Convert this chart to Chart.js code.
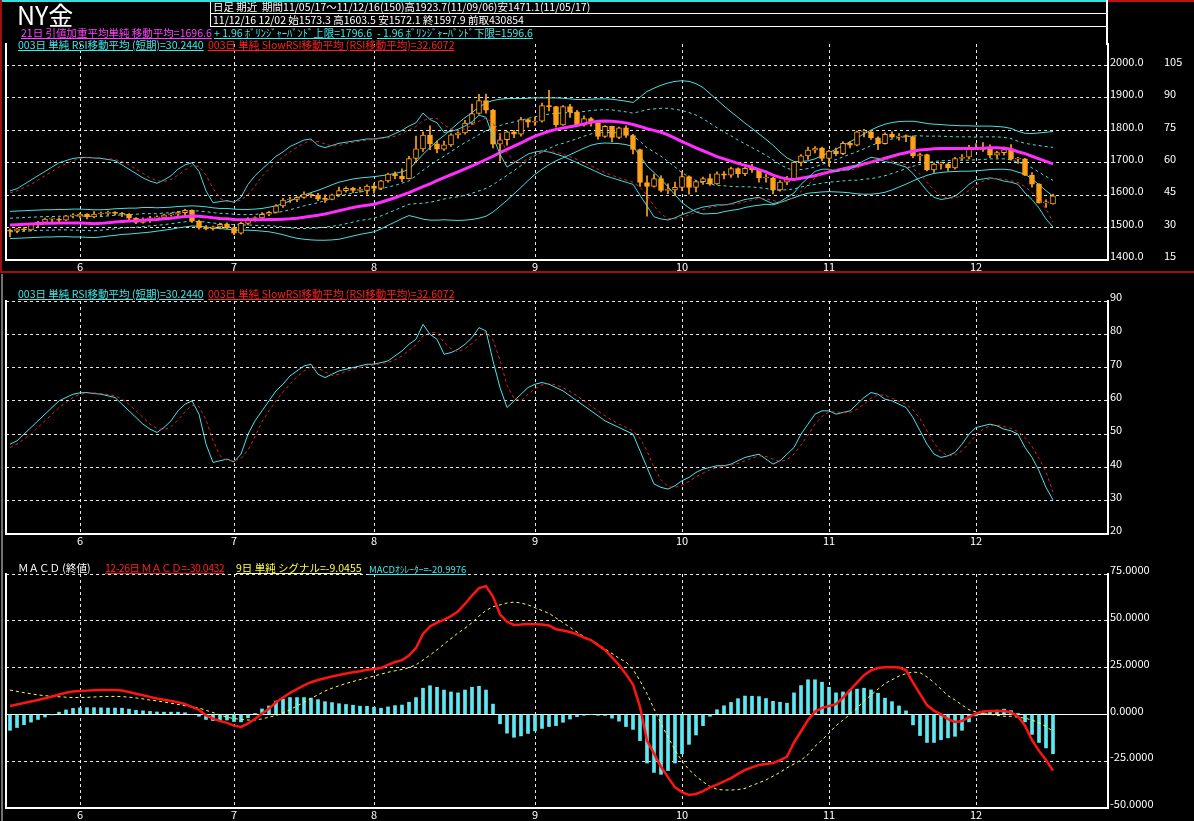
<!DOCTYPE html>
<html lang="ja">
<head>
<meta charset="utf-8">
<title>NY金</title>
<script src="https://cdn.jsdelivr.net/npm/chart.js@4.4.1/dist/chart.umd.min.js"></script>
<style>
  html, body { margin: 0; padding: 0; background: #000; }
  body { position: relative; width: 1194px; height: 821px; overflow: hidden; font-family: "Noto Sans CJK JP", sans-serif; }
  canvas { position: absolute; left: 0; }
  .ln { position: absolute; z-index: 2; }
  .tx { position: absolute; font-size: 10.5px; line-height: 12px; white-space: nowrap; z-index: 3; }
  .u { text-decoration: underline; text-underline-offset: 1px; }
</style>
</head>
<body>
<canvas id="price" width="1194" height="272" style="top:0"></canvas>
<canvas id="rsi" width="1194" height="276" style="top:272px"></canvas>
<canvas id="macd" width="1194" height="273" style="top:548px"></canvas>

<!-- frame -->
<div class="ln" style="left:0;top:0;width:1108px;height:2px;background:#30e0e0"></div>
<div class="ln" style="left:1108px;top:0;width:86px;height:2px;background:#c01010"></div>
<div class="ln" style="left:0;top:0;width:2px;height:272px;background:#a01010"></div>
<div class="ln" style="left:0;top:271px;width:1194px;height:2px;background:#a01010"></div>
<div class="ln" style="left:1px;top:274px;width:2px;height:547px;background:#707070"></div>
<div class="ln" style="left:210px;top:2px;width:1px;height:25px;background:#fff"></div>
<div class="ln" style="left:210px;top:13px;width:898px;height:1px;background:#fff"></div>
<div class="ln" style="left:210px;top:26px;width:898px;height:1px;background:#fff"></div>
<div class="ln" style="left:1106px;top:0;width:2px;height:45px;background:#fff"></div>

<!-- header -->
<div class="tx" style="left:17px;top:1px;font-size:25px;line-height:26px;color:#fff">NY金</div>
<div class="tx" style="left:213px;top:1px;color:#fff">日足 期近&nbsp; 期間11/05/17～11/12/16(150)高1923.7(11/09/06)安1471.1(11/05/17)</div>
<div class="tx" style="left:213px;top:14px;color:#fff">11/12/16 12/02 始1573.3 高1603.5 安1572.1 終1597.9 前取430854</div>
<div class="tx u" style="left:21px;top:27px;color:#ff40ff">21日 引値加重平均単純 移動平均=1696.6</div>
<div class="tx u" style="left:214px;top:27px;color:#40e8e8">+ 1.96 ﾎﾞﾘﾝｼﾞｬｰﾊﾞﾝﾄﾞ上限=1796.6</div>
<div class="tx u" style="left:377px;top:27px;color:#40e8e8">- 1.96 ﾎﾞﾘﾝｼﾞｬｰﾊﾞﾝﾄﾞ下限=1596.6</div>
<div class="tx u" style="left:18px;top:39px;color:#40e8e8">003日 単純 RSI移動平均 (短期)=30.2440</div>
<div class="tx u" style="left:208px;top:39px;color:#ff2020">003日 単純 SlowRSI移動平均 (RSI移動平均)=32.6072</div>

<div class="tx u" style="left:18px;top:288px;color:#40e8e8">003日 単純 RSI移動平均 (短期)=30.2440</div>
<div class="tx u" style="left:208px;top:288px;color:#ff2020">003日 単純 SlowRSI移動平均 (RSI移動平均)=32.6072</div>

<div class="tx" style="left:18px;top:562px;color:#fff">ＭＡＣＤ (終値)</div>
<div class="tx u" style="left:105px;top:562px;color:#ff2020;letter-spacing:-0.5px">12-26日 ＭＡＣＤ=-30.0432</div>
<div class="tx u" style="left:236px;top:562px;color:#ffff40">9日 単純 シグナル=-9.0455</div>
<div class="tx u" style="left:369px;top:563px;color:#40e8e8;font-size:9.5px">MACDｵｼﾚｰﾀｰ=-20.9976</div>

<script>
// ---- data: 150 daily bars, 2011/05/17 - 2011/12/16 ----
const dates = [
  '05/17','05/18','05/19','05/20','05/23','05/24','05/25','05/26','05/27','05/31',
  '06/01','06/02','06/03','06/06','06/07','06/08','06/09','06/10','06/13','06/14','06/15','06/16','06/17','06/20','06/21','06/22','06/23','06/24','06/27','06/28','06/29','06/30',
  '07/01','07/05','07/06','07/07','07/08','07/11','07/12','07/13','07/14','07/15','07/18','07/19','07/20','07/21','07/22','07/25','07/26','07/27','07/28','07/29',
  '08/01','08/02','08/03','08/04','08/05','08/08','08/09','08/10','08/11','08/12','08/15','08/16','08/17','08/18','08/19','08/22','08/23','08/24','08/25','08/26','08/29','08/30','08/31',
  '09/01','09/02','09/06','09/07','09/08','09/09','09/12','09/13','09/14','09/15','09/16','09/19','09/20','09/21','09/22','09/23','09/26','09/27','09/28','09/29','09/30',
  '10/03','10/04','10/05','10/06','10/07','10/10','10/11','10/12','10/13','10/14','10/17','10/18','10/19','10/20','10/21','10/24','10/25','10/26','10/27','10/28','10/31',
  '11/01','11/02','11/03','11/04','11/07','11/08','11/09','11/10','11/11','11/14','11/15','11/16','11/17','11/18','11/21','11/22','11/23','11/25','11/28','11/29','11/30',
  '12/01','12/02','12/05','12/06','12/07','12/08','12/09','12/12','12/13','12/14','12/15','12/16'
];

const openP = [
  1490,1489,1496,1493,1510,1516,1526,1526,1523,1536,
  1536,1541,1533,1542,1544,1545,1544,1541,1529,1516,1525,1530,1531,1539,1541,1546,1553,1520,1500,1497,1502,1510,
  1500,1483,1513,1528,1530,1541,1547,1567,1585,1587,1593,1603,1600,1588,1587,1601,1614,1621,1615,1615,
  1628,1621,1644,1665,1659,1651,1713,1743,1785,1758,1742,1755,1786,1792,1822,1852,1892,1862,1757,1771,1795,1788,1833,
  1825,1828,1876,1873,1817,1873,1856,1816,1836,1823,1781,1812,1778,1808,1784,1741,1639,1627,1651,1615,1616,
  1624,1657,1624,1642,1651,1635,1666,1662,1682,1666,1683,1679,1653,1653,1616,1640,1651,1701,1721,1739,1745,
  1713,1736,1728,1760,1754,1795,1795,1777,1759,1788,1779,1782,1781,1721,1725,1678,1696,1696,1684,1713,1717,
  1747,1741,1746,1723,1731,1741,1711,1712,1662,1634,1576,1573.3
];
const highP = [
  1496,1498,1500,1513,1519,1529,1530,1530,1538,1543,
  1545,1543,1549,1548,1551,1549,1547,1543,1531,1530,1535,1536,1542,1545,1550,1556,1555,1523,1506,1505,1514,1515,
  1502,1517,1531,1533,1546,1550,1571,1590,1594,1596,1610,1605,1606,1601,1603,1625,1626,1624,1625,1632,
  1636,1646,1668,1672,1681,1720,1782,1795,1814,1767,1767,1790,1795,1831,1881,1911,1912,1865,1790,1798,1800,1840,1836,
  1840,1884,1923.7,1874,1876,1880,1862,1845,1840,1830,1815,1813,1810,1814,1788,1742,1660,1665,1660,1635,1640,
  1674,1660,1645,1656,1665,1672,1673,1687,1684,1686,1695,1680,1665,1655,1645,1658,1703,1725,1748,1750,1748,
  1738,1745,1765,1765,1798,1803,1800,1780,1792,1795,1790,1786,1783,1730,1727,1700,1702,1699,1717,1725,1754,
  1759,1762,1755,1735,1748,1756,1717,1714,1670,1636,1586,1603.5
];
const lowP = [
  1471.1,1484,1488,1490,1500,1512,1518,1515,1521,1530,
  1530,1527,1530,1537,1538,1538,1534,1524,1512,1514,1516,1522,1528,1535,1537,1540,1516,1495,1493,1492,1496,1497,
  1478,1480,1508,1520,1521,1537,1545,1562,1578,1580,1590,1593,1583,1578,1585,1598,1609,1608,1609,1603,
  1606,1617,1640,1650,1642,1650,1700,1735,1740,1730,1738,1750,1776,1788,1818,1850,1853,1746,1705,1754,1777,1782,1810,
  1815,1825,1860,1810,1815,1840,1812,1813,1813,1773,1778,1764,1774,1778,1727,1627,1535,1625,1610,1605,1600,
  1614,1603,1610,1633,1630,1633,1650,1655,1655,1660,1670,1640,1640,1604,1612,1632,1648,1690,1710,1730,1706,
  1690,1722,1725,1746,1752,1780,1772,1740,1757,1776,1770,1765,1716,1705,1675,1670,1680,1675,1680,1708,1712,
  1740,1735,1716,1715,1723,1708,1698,1660,1625,1575,1562,1572.1
];
const closeP = [
  1489,1496,1493,1510,1516,1526,1526,1523,1536,1536,
  1541,1533,1542,1544,1545,1544,1541,1529,1516,1525,1530,1531,1539,1541,1546,1553,1520,1500,1497,1502,1510,1500,
  1483,1513,1528,1530,1541,1547,1567,1585,1587,1593,1603,1600,1588,1587,1601,1614,1621,1615,1615,1628,
  1621,1644,1665,1659,1651,1713,1743,1785,1758,1742,1755,1786,1792,1822,1852,1892,1862,1757,1771,1795,1788,1833,1825,
  1828,1876,1873,1817,1873,1856,1816,1836,1823,1781,1812,1778,1808,1784,1741,1639,1627,1651,1615,1616,1624,
  1657,1624,1642,1651,1635,1666,1662,1682,1666,1683,1679,1653,1653,1616,1640,1651,1701,1721,1739,1745,1713,
  1736,1728,1760,1754,1795,1795,1777,1759,1788,1779,1782,1781,1721,1725,1678,1696,1696,1684,1713,1717,1747,
  1741,1746,1723,1731,1741,1711,1712,1662,1634,1576,1578,1597.9
];

// 21-day moving average and bands (+-1.96 solid, +-1 dashed)
const ma21 = [
  1508,1509,1510,1511,1512,1513,1513,1514,1514,1514,
  1514,1513,1512,1513,1515,1517,1519,1520,1521,1523,1524,1525,1527,1529,1532,1534,1536,1535,1533,1530,1528,1527,
  1525,1524,1524,1524,1524,1525,1525,1526,1527,1529,1532,1535,1538,1542,1547,1552,1557,1562,1566,1569,
  1572,1578,1585,1592,1600,1608,1617,1626,1635,1645,1654,1663,1672,1681,1690,1700,1710,1720,1731,1741,1751,1761,1772,
  1782,1790,1797,1803,1807,1811,1815,1820,1825,1828,1829,1828,1826,1823,1818,1812,1805,1800,1794,1786,1776,
  1765,1756,1746,1737,1728,1719,1712,1705,1698,1692,1686,1679,1672,1662,1655,1650,1648,1652,1656,1660,1666,
  1671,1676,1681,1686,1690,1696,1702,1708,1714,1720,1726,1731,1736,1739,1741,1743,1744,1744,1744,1744,1744,
  1744,1745,1746,1746,1745,1742,1734,1728,1720,1712,1704,1696.6
];
const bbUpper = [
  1550,1551,1552,1553,1554,1555,1555,1556,1556,1557,
  1557,1556,1555,1555,1556,1558,1559,1560,1560,1562,1562,1561,1562,1563,1565,1566,1567,1566,1564,1561,1559,1559,
  1557,1556,1556,1557,1559,1563,1567,1574,1582,1591,1600,1608,1615,1623,1632,1640,1645,1650,1653,1655,
  1657,1660,1663,1667,1672,1679,1702,1726,1747,1767,1784,1803,1822,1839,1855,1871,1885,1892,1896,1898,1898,1898,1899,
  1900,1900,1900,1900,1899,1897,1895,1895,1896,1897,1897,1896,1893,1890,1886,1902,1920,1930,1939,1946,1951,
  1953,1951,1944,1932,1913,1894,1875,1857,1840,1822,1806,1789,1772,1754,1733,1715,1704,1704,1706,1712,1722,
  1731,1742,1753,1765,1776,1789,1801,1811,1819,1824,1827,1828,1828,1825,1821,1819,1818,1816,1815,1814,1814,
  1813,1813,1813,1812,1810,1806,1797,1791,1790,1792,1794,1796.6
];
const bbLower = [
  1466,1467,1468,1469,1470,1471,1471,1472,1472,1471,
  1471,1470,1469,1471,1474,1476,1479,1480,1482,1484,1486,1489,1492,1495,1499,1502,1505,1504,1502,1499,1497,1495,
  1493,1492,1492,1491,1489,1487,1483,1478,1472,1467,1464,1462,1461,1461,1462,1464,1469,1474,1479,1483,
  1487,1496,1507,1517,1528,1537,1532,1526,1523,1523,1524,1523,1522,1523,1525,1529,1535,1548,1566,1584,1604,1624,1645,
  1664,1680,1694,1706,1715,1725,1735,1745,1754,1759,1761,1760,1759,1756,1750,1722,1690,1670,1649,1626,1601,
  1577,1561,1548,1542,1543,1544,1549,1553,1556,1562,1566,1569,1572,1570,1577,1585,1592,1600,1606,1608,1610,
  1611,1610,1609,1607,1604,1603,1603,1605,1609,1616,1625,1634,1644,1653,1661,1667,1670,1672,1673,1674,1674,
  1675,1677,1679,1680,1680,1678,1671,1665,1650,1632,1614,1596.6
];
const sigUpper = [
  1529,1530,1531,1532,1533,1534,1534,1535,1535,1536,
  1536,1535,1534,1534,1536,1538,1539,1540,1541,1543,1543,1543,1545,1546,1549,1550,1552,1551,1549,1546,1544,1543,
  1541,1540,1540,1541,1542,1544,1546,1550,1555,1561,1567,1572,1577,1583,1590,1597,1602,1607,1610,1613,
  1615,1620,1625,1630,1637,1644,1660,1677,1692,1707,1720,1734,1749,1762,1774,1787,1799,1808,1815,1821,1826,1831,1837,
  1842,1846,1850,1852,1854,1855,1856,1858,1861,1863,1864,1863,1860,1857,1853,1858,1864,1866,1868,1868,1865,
  1861,1855,1847,1836,1822,1808,1795,1783,1770,1758,1747,1735,1723,1709,1695,1683,1677,1679,1682,1687,1695,
  1702,1710,1718,1726,1734,1743,1753,1761,1768,1773,1778,1780,1783,1783,1782,1782,1782,1781,1780,1780,1780,
  1779,1780,1780,1780,1778,1775,1766,1760,1756,1753,1750,1747.6
];
const sigLower = [
  1487,1488,1489,1490,1491,1492,1492,1493,1493,1492,
  1492,1491,1490,1492,1494,1496,1499,1500,1501,1503,1505,1507,1509,1512,1515,1518,1520,1519,1517,1514,1512,1511,
  1509,1508,1508,1507,1506,1506,1504,1502,1499,1497,1497,1498,1499,1501,1504,1507,1512,1517,1522,1525,
  1529,1536,1545,1554,1563,1572,1574,1575,1578,1583,1588,1592,1595,1600,1606,1613,1621,1632,1647,1661,1676,1691,1707,
  1722,1734,1744,1754,1760,1767,1774,1782,1789,1793,1794,1793,1792,1789,1783,1766,1746,1734,1720,1704,1687,
  1669,1657,1645,1638,1634,1630,1629,1627,1626,1626,1625,1623,1621,1615,1615,1617,1619,1625,1630,1633,1637,
  1640,1642,1644,1646,1646,1649,1651,1655,1660,1667,1674,1682,1689,1695,1700,1704,1706,1707,1708,1708,1708,
  1709,1710,1712,1712,1712,1709,1702,1696,1684,1671,1658,1645.6
];

// RSI (3-day smoothed) and SlowRSI
const rsi3 = [
  47,48,50,52,54,56,58,60,61,62,
  62.4,62.5,62.2,62,61.5,61,59,57,55,53,51.5,50.5,52,54,57,59,60,56,47,41.5,42,42.5,
  41.7,44,50,54,57,60,63,65,67.5,69,70.5,71,68,67,68,69,69.5,70,70.5,71,
  71,71.5,72,73.5,75,77,78.5,83,80,78.5,74,74.5,75.5,77,79,82,81,72,64,58,60,62,64,
  65,65.5,65,64,63,61.5,60,58.5,57,55.5,54,53,52,51,50,45,40,35,34,33.5,34.5,
  36,37,38.5,39.5,40,40.5,40.5,41,42,43,43.5,44,42.5,41,42,44,46,50,53,56,57,
  57,56,56.5,57,59,61,62.5,62,60.5,60,59,58,55,51,47,44,43,43.5,44.5,47,50,
  52,52.5,53,52.5,51.5,51,50,46,43,39,34,30.244
];
const slowRsi = [
  46,47,48.5,50,52,54,56,58,59.5,61,
  62,62.3,62.4,62.2,61.9,61.5,60.5,59,57,55,53,51.7,51.3,52.2,54.3,56.7,58.7,58.3,54.3,48.2,43.5,42,
  42,42.7,45.2,49.3,53.7,57,60,62.7,65,67.2,69,70.2,69.8,68.7,67.7,68,68.8,69.5,70,70.5,
  70.8,71.2,71.5,72.3,73.5,75.2,76.8,79.5,80.5,80.5,77.5,75.7,74.7,75.7,77.2,79.3,80.7,78.3,72.3,64.7,60.7,60,62,
  63.7,64.8,65.2,64.8,64,62.8,61.5,60,58.5,57,55.5,54.2,53,52,51,48.7,45,40,36.3,34.2,34,
  34.7,35.8,37.2,38.3,39.3,40,40.3,40.7,41.2,42,42.8,43.5,43.3,42.5,41.8,42.3,44,46.7,49.7,53,55.3,
  56.7,56.7,56.5,56.5,57.5,59,60.8,61.8,61.7,60.8,59.8,59,57.3,54.7,51,47.3,44.7,43.5,43.7,45,47.2,
  49.7,51.5,52.5,52.7,52.3,51.7,50.8,49,46.3,42.7,38.7,32.6072
];

// MACD 12-26, signal 9, oscillator
const macdLine = [
  4.5,5.3,6.1,6.9,7.7,8.6,9.6,10.6,11.6,12.2,
  12.5,12.7,12.9,13,13,13,12.8,12,11,10.2,9.3,8.5,7.8,7.2,6.5,5.5,4,2.4,-0.5,-2.3,-3.5,-4.5,
  -6,-6.7,-4.8,-2.5,0.5,3,6.5,9,11.5,13.5,15.5,17.2,18.4,19.3,20.3,21,21.8,22.5,23,23.8,
  24.3,24.8,26.5,28,29,31.5,35.5,43,47,49,50.5,52.5,55,59,63.5,67.5,68.5,63,53.5,49.5,47.8,48,48.3,
  48.2,48,47.5,45.5,44.8,44,42.8,41,39.7,37,34.4,30.5,26.4,21.5,16,4,-14,-21,-28,-33.5,-39,
  -41.5,-43,-42.5,-41,-39,-37.5,-35.8,-34,-31.8,-29.7,-28.3,-27,-26.5,-26,-24.5,-22.5,-15,-9,-3,1.5,3.5,
  4.5,5.5,9,13,17,21,23.5,24.8,25.2,25.3,25,23.7,17,11,5,2,0,-2.5,-4,-3.5,-1.5,
  0.5,1.5,1.8,1.8,1.8,1,-1,-6,-13.7,-19.5,-24.4,-30.0432
];
const signalLine = [
  13,12.3,11.6,11,10.4,10,9.7,9.4,9.2,9,
  9,9.1,9.3,9.5,9.6,9.6,9.5,9.2,8.8,8.3,7.7,7.2,6.6,6,5.3,4.6,4,3.4,2.2,1,-0.3,-1.5,
  -2.2,-2.7,-3,-3,-2.4,-1.5,-0.6,0.8,2.5,4.5,6.5,8.5,10.5,12.5,14,15.3,16.5,17.6,18.6,19.5,
  20.5,21.5,22.5,23.3,24,25,26.5,29,31.7,34.5,37.5,40.5,43.5,46,49,52.5,55.5,57.5,58.5,59.5,60,59.5,58.5,
  57,55.5,54,51.5,49,46.5,44,41.5,39.7,37.5,35,32.5,30,28,24,18,11,3,-5,-12,-19,
  -25,-29.5,-33,-36,-38.5,-40,-40.4,-40.4,-40.2,-39.5,-38,-36.5,-35,-33,-31,-28.5,-26.5,-24.4,-21.5,-17,-13.7,
  -10,-6,-3,0,3.5,7,10.4,13.5,16.5,18.5,20.5,21.8,22.6,22.3,20,17,13.5,10,7.7,5,2.5,
  1.3,0.5,0,-0.5,-1,-1,-1.5,-2,-3,-4.5,-6.5,-9.0455
];
const oscBars = [
  -8.5,-7,-5.5,-4.1,-2.7,-1.4,-0.1,1.2,2.4,3.2,
  3.5,3.6,3.6,3.5,3.4,3.4,3.3,2.8,2.2,1.9,1.6,1.3,1.2,1.2,1.2,0.9,0,-1,-2.7,-3.3,-3.2,-3,
  -3.8,-4,-1.8,0.5,2.9,4.5,7.1,8.2,9,9,9,8.7,7.9,6.8,6.3,5.7,5.3,4.9,4.4,4.3,
  3.8,3.3,4,4.7,5,6.5,9,14,15.3,14.5,13,12,11.5,13,14.5,15,13,5.5,-5,-10,-12.2,-11.5,-10.2,
  -8.8,-7.5,-6.5,-6,-4.2,-2.5,-1.2,-0.5,0,-0.5,-0.6,-2,-3.6,-6.5,-8,-14,-26,-31,-32,-30,-26,
  -21,-16,-11,-6,-1,2.5,4.6,6.4,8.4,9.8,9.7,9.5,8.5,7,6.5,6,11.5,15.4,18.5,18.5,17.2,
  14.5,11.5,12,13,13.5,14,13.1,11.3,8.7,6.8,4.5,1.9,-5.6,-11.3,-15,-15,-13.5,-12.5,-11.7,-8.5,-4,
  -0.8,1,1.8,2.3,2.8,2,0.5,-4,-10.7,-15,-17.9,-20.9976
];

// axis ticks
const priceTicks = [1400, 1500, 1600, 1700, 1800, 1900, 2000];
const rsiOverlayTicks = [15, 30, 45, 60, 75, 90, 105];
const rsiTicks = [20, 30, 40, 50, 60, 70, 80, 90];
const macdTicks = [-50, -25, 0, 25, 50, 75];

// ---- look ----
const ORANGE = '#ffa31a';
const CYAN = '#48dede';
const GRID = 'rgba(255,255,255,0.9)';
const X_MIN = -4 / 7, X_MAX = 1098 / 7;   // 7px per bar, first bar at x=10
Chart.defaults.font.family = '"Noto Sans CJK JP", sans-serif';
Chart.defaults.font.size = 11;
Chart.defaults.color = '#fff';

const monthStarts = dates.map((d, i) => (i > 0 && d.slice(0, 2) !== dates[i - 1].slice(0, 2)) ? i : -1).filter(i => i > 0);
const pts = arr => arr.map((v, i) => ({ x: i, y: v }));

// dashed month lines, drawn at the x scale's own tick positions
const monthGrid = {
  id: 'monthGrid',
  beforeDatasetsDraw(chart) {
    const { ctx, chartArea: a, scales: { x } } = chart;
    ctx.save();
    ctx.strokeStyle = GRID;
    ctx.lineWidth = 1;
    ctx.setLineDash([3, 3]);
    x.ticks.forEach(t => {
      const px = Math.round(x.getPixelForValue(t.value)) + 0.5;
      ctx.beginPath();
      ctx.moveTo(px, a.top);
      ctx.lineTo(px, a.bottom);
      ctx.stroke();
    });
    ctx.restore();
  }
};

function xAxis(h) {
  return {
    type: 'linear', min: X_MIN, max: X_MAX, offset: false,
    afterBuildTicks: s => { s.ticks = monthStarts.map(v => ({ value: v })); },
    afterFit: s => { s.height = h; },
    grid: { drawOnChartArea: false, drawTicks: false },
    border: { color: '#fff', width: 2 },
    ticks: { padding: 0, autoSkip: false, maxRotation: 0, color: '#fff',
      callback: v => String(parseInt(dates[v].slice(0, 2), 10)) }
  };
}
function yAxis(min, max, ticks, fmt, width) {
  return {
    position: 'right', min, max, weight: 0,
    afterBuildTicks: s => { s.ticks = ticks.map(v => ({ value: v })); },
    afterFit: s => { s.width = width; },
    grid: { color: GRID, lineWidth: 1, drawTicks: false },
    border: { color: '#fff', width: 2, dash: [3, 3] },
    ticks: { padding: 2, labelOffset: -4, color: '#fff', callback: fmt }
  };
}
const leftEdge = {
  position: 'left', display: true, afterFit: s => { s.width = 6; },
  ticks: { display: false }, grid: { display: false, drawTicks: false },
  border: { display: true, color: '#fff', width: 2 }
};
const base = {
  animation: false, responsive: false, devicePixelRatio: 1, events: [],
  plugins: { legend: { display: false }, tooltip: { enabled: false } }
};
const lineDs = (data, color, width, dash, yAxisID, order) => ({
  type: 'line', data: pts(data), borderColor: color, borderWidth: width, borderDash: dash || [],
  pointRadius: 0, tension: 0, fill: false, yAxisID: yAxisID || 'y', order
});

// ---- price panel ----
new Chart(document.getElementById('price'), {
  type: 'line',
  data: {
    datasets: [
      lineDs(bbUpper, CYAN, 1, null, 'y', 20),
      lineDs(bbLower, CYAN, 1, null, 'y', 20),
      lineDs(sigUpper, CYAN, 1, [3, 3], 'y', 19),
      lineDs(sigLower, CYAN, 1, [3, 3], 'y', 19),
      {
        type: 'bar', data: lowP.map((v, i) => ({ x: i, y: [v, highP[i]] })),
        backgroundColor: ORANGE, barThickness: 1, grouped: false, yAxisID: 'y', order: 12
      },
      {
        type: 'bar', data: openP.map((v, i) => ({ x: i, y: [v, closeP[i]] })),
        backgroundColor: c => closeP[c.dataIndex] < openP[c.dataIndex] ? ORANGE : '#000',
        borderColor: ORANGE, borderWidth: 1, borderSkipped: false, minBarLength: 1,
        barThickness: 5, grouped: false, yAxisID: 'y', order: 11
      },
      lineDs(ma21, '#ff2eff', 3, null, 'y', 5),
      lineDs(rsi3, '#40d8e0', 1, null, 'yr', 3),
      lineDs(slowRsi, '#d02828', 1, [3, 3], 'yr', 2)
    ]
  },
  options: Object.assign({}, base, {
    layout: { padding: { top: 44, left: 0, right: 0, bottom: 0 } },
    scales: {
      x: xAxis(12),
      y: yAxis(1400, 1400 + 600 * 216 / 194.5, priceTicks, v => v.toFixed(1), 52),
      yr: {
        position: 'right', min: 15, max: 15 + 90 * 216 / 194.5, weight: 1,
        afterBuildTicks: s => { s.ticks = rsiOverlayTicks.map(v => ({ value: v })); },
        afterFit: s => { s.width = 34; },
        grid: { display: false, drawTicks: false }, border: { display: false },
        ticks: { padding: 4, labelOffset: -4, color: '#fff' }
      },
      yl: leftEdge
    }
  }),
  plugins: [monthGrid]
});

// ---- RSI panel ----
new Chart(document.getElementById('rsi'), {
  type: 'line',
  data: {
    datasets: [
      lineDs(rsi3, '#48e4ec', 1, null, 'y', 2),
      lineDs(slowRsi, '#e02222', 1, [3, 3], 'y', 1)
    ]
  },
  options: Object.assign({}, base, {
    layout: { padding: { top: 29, left: 0, right: 0, bottom: 0 } },
    scales: {
      x: xAxis(14),
      y: yAxis(20, 90, rsiTicks, v => String(v), 86),
      yl: leftEdge
    }
  }),
  plugins: [monthGrid]
});

// ---- MACD panel ----
const zeroLine = {
  id: 'zeroLine',
  beforeDatasetsDraw(chart) {
    const { ctx, chartArea: a, scales: { y } } = chart;
    const py = Math.round(y.getPixelForValue(0)) + 0.5;
    ctx.save();
    ctx.strokeStyle = '#fff';
    ctx.lineWidth = 1;
    ctx.beginPath();
    ctx.moveTo(a.left, py);
    ctx.lineTo(a.right, py);
    ctx.stroke();
    ctx.restore();
  }
};
new Chart(document.getElementById('macd'), {
  type: 'line',
  data: {
    datasets: [
      {
        type: 'bar', data: pts(oscBars), backgroundColor: '#5ee8f2',
        barThickness: 3, grouped: false, yAxisID: 'y', order: 5
      },
      lineDs(signalLine, '#ffff48', 1, [3, 3], 'y', 2),
      lineDs(macdLine, '#ff1414', 2.5, null, 'y', 1)
    ]
  },
  options: Object.assign({}, base, {
    layout: { padding: { top: 26, left: 0, right: 0, bottom: 0 } },
    scales: {
      x: xAxis(13),
      y: yAxis(-50, 75, macdTicks, v => v.toFixed(4), 86),
      yl: leftEdge
    }
  }),
  plugins: [monthGrid, zeroLine]
});
</script>
</body>
</html>
